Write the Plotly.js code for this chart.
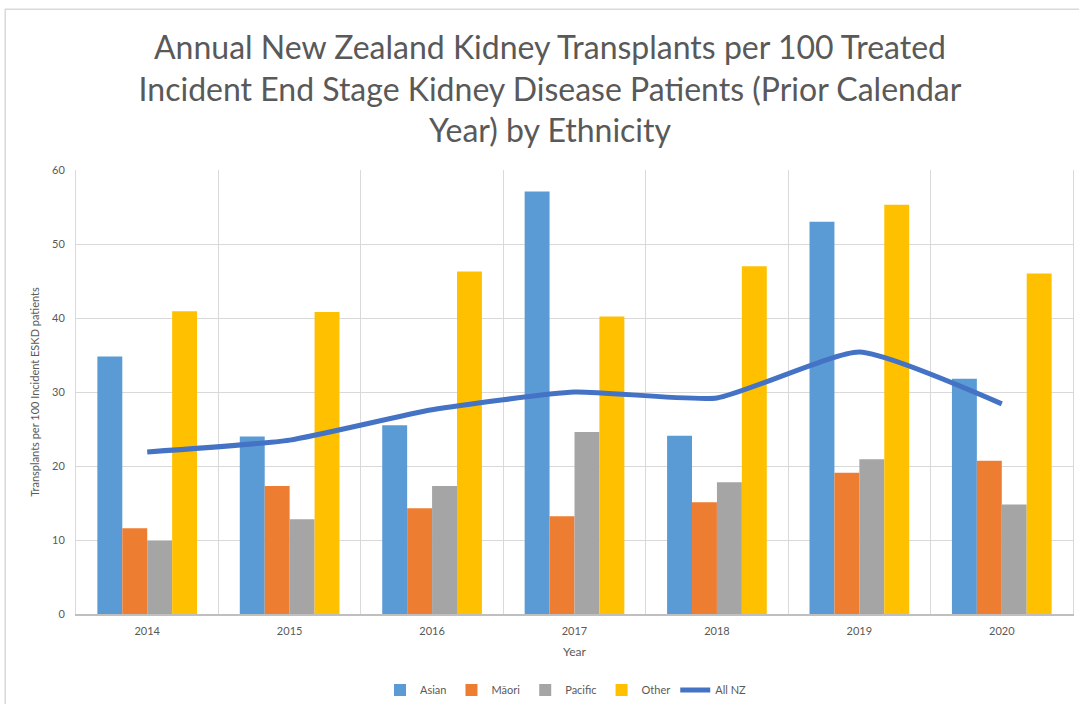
<!DOCTYPE html>
<html>
<head>
<meta charset="utf-8">
<script src="https://cdn.plot.ly/plotly-3.0.1.min.js"></script>
<style>html,body{margin:0;padding:0;background:#fff;}#chart{width:1079px;height:704px;}</style>
</head>
<body>
<div id="chart"></div>
<script>
const years = ['2014', '2015', '2016', '2017', '2018', '2019', '2020'];
const asian = [34.8, 24.0, 25.5, 57.1, 24.1, 53.0, 31.8];
const maori = [11.6, 17.3, 14.3, 13.2, 15.1, 19.1, 20.7];
const pacific = [9.9, 12.8, 17.3, 24.6, 17.8, 20.9, 14.8];
const other = [40.9, 40.8, 46.3, 40.2, 47.0, 55.3, 46.0];
const allNZ = [21.9, 23.5, 27.6, 30.0, 29.2, 35.4, 28.4];

const titleText = 'Annual New Zealand Kidney Transplants per 100 Treated<br>Incident End Stage Kidney Disease Patients (Prior Calendar<br>Year) by Ethnicity';
const fontFam = 'Lato, "Open Sans", sans-serif';

const traces = [
  {type: 'bar', name: 'Asian', x: years, y: asian, marker: {color: '#5B9BD5'}},
  {type: 'bar', name: 'Māori', x: years, y: maori, marker: {color: '#ED7D31'}},
  {type: 'bar', name: 'Pacific', x: years, y: pacific, marker: {color: '#A5A5A5'}},
  {type: 'bar', name: 'Other', x: years, y: other, marker: {color: '#FFC000'}},
  {type: 'scatter', mode: 'lines', name: 'All NZ', x: years, y: allNZ,
   line: {color: '#4472C4', width: 5, shape: 'spline', smoothing: 0.5}}
];

const layout = {
  width: 1079, height: 704,
  paper_bgcolor: '#ffffff', plot_bgcolor: '#ffffff',
  margin: {l: 76, r: 6, t: 170, b: 90, autoexpand: false},
  font: {family: fontFam, color: '#595959', size: 11},
  title: {text: titleText, font: {family: fontFam, size: 32, color: '#595959'},
          x: 550/1079, xanchor: 'center', xref: 'container', yref: 'container', y: 1 - 59/704, yanchor: 'middle'},
  barmode: 'group', bargap: 0.3, bargroupgap: 0,
  xaxis: {
    type: 'category', tickson: 'boundaries', ticks: '', showgrid: true,
    gridcolor: '#d9d9d9', gridwidth: 1,
    showline: true, linecolor: '#bfbfbf', linewidth: 1.5,
    tickfont: {size: 11, color: '#595959'}, ticklabelstandoff: 6,
    title: {text: 'Year', font: {size: 12, color: '#595959'}, standoff: 12},
    fixedrange: true
  },
  yaxis: {
    range: [0, 60], dtick: 10, showgrid: true, gridcolor: '#d9d9d9', gridwidth: 1,
    zeroline: false, showline: true, linecolor: '#d9d9d9', mirror: true,
    tickfont: {size: 11, color: '#595959'}, ticks: '', ticklen: 0, ticklabelstandoff: 8,
    title: {text: 'Transplants per 100 Incident ESKD patients', font: {size: 11, color: '#595959'}, standoff: 10}
  },
  legend: {orientation: 'h', x: 566/1079, xanchor: 'center', xref: 'container', yref: 'container', y: 14/704, yanchor: 'middle',
           font: {size: 11, color: '#595959'}, traceorder: 'normal'},
  showlegend: true,
  shapes: [
    {type: 'rect', xref: 'paper', yref: 'paper', x0: -0.071, x1: 1.1, y0: -0.3, y1: 1.362,
     line: {color: '#d9d9d9', width: 1.5}, fillcolor: 'rgba(0,0,0,0)', layer: 'below'}
  ]
};

Plotly.newPlot('chart', traces, layout, {displayModeBar: false, staticPlot: true});
</script>
</body>
</html>
